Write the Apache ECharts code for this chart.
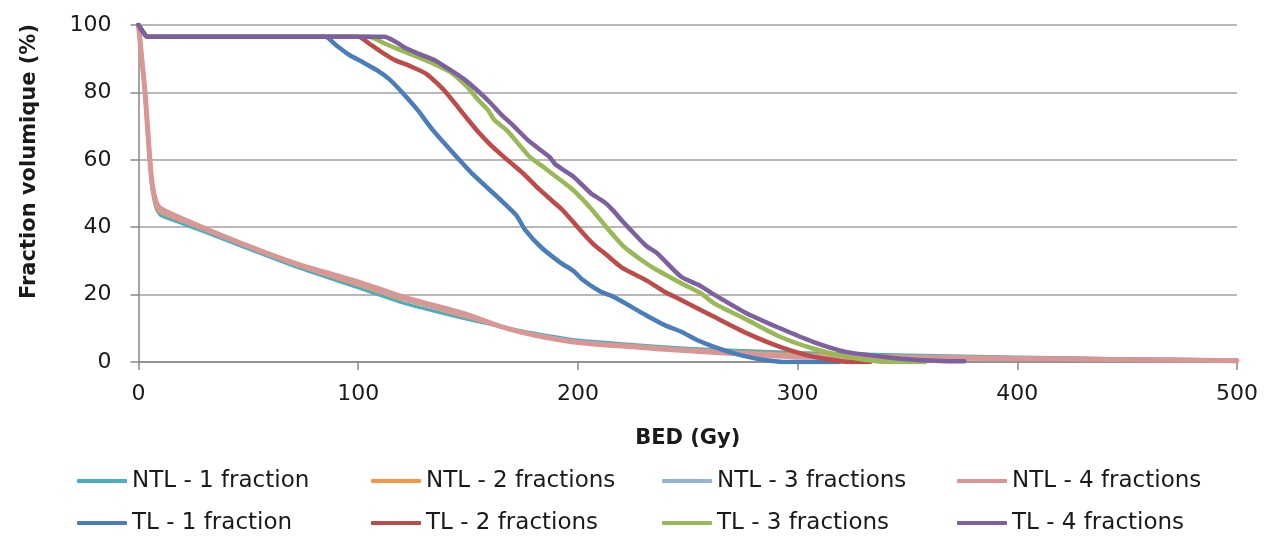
<!DOCTYPE html>
<html>
<head>
<meta charset="utf-8">
<script src="https://cdn.jsdelivr.net/npm/echarts@6/dist/echarts.min.js"></script>
<style>
html,body{margin:0;padding:0;background:#fff;}
#c{width:1271px;height:537px;}
</style>
</head>
<body>
<div id="c"></div>
<script>
// Series names and colours
var seriesNames = ['NTL - 1 fraction','NTL - 2 fractions','NTL - 3 fractions','NTL - 4 fractions',
                   'TL - 1 fraction','TL - 2 fractions','TL - 3 fractions','TL - 4 fractions'];
var seriesColors = ['#4BACC6','#F79646','#95B3D7','#D99694','#4A7EBB','#BE4B48','#98B954','#7D60A0'];
var xTicks = [0,100,200,300,400,500];
var yTicks = [0,20,40,60,80,100];

// [BED (Gy), fraction volumique (%)]
var ntl1 = [[0,100],[1.5,90],[3,78],[4.5,64],[6,52],[8,45.5],[10,43.5],[20,41],[43,35.3],[73.5,27.8],[100,22],[120,17.6],[150,12.6],[165,10.5],[180,8.6],[200,6.5],[225,5.2],[250,4.1],[275,3.4],[300,2.8],[350,2.1],[400,1.5],[450,1],[500,0.6]];
var ntl2 = [[0,100],[1.5,90],[3,79],[4.5,65],[6,53],[8,46],[10,44.3],[20,41.7],[43,35.8],[73.5,28.3],[100,22.8],[120,18.5],[150,13.2],[165,10.4],[180,8.2],[200,6.1],[225,4.9],[250,3.8],[275,3],[300,2.3],[350,1.8],[400,1.3],[450,0.9],[500,0.5]];
var ntl3 = [[0,100],[1.5,90],[3,79.5],[4.5,65.5],[6,53.5],[8,47],[10,45],[20,42.2],[43,36],[73.5,28.6],[100,23.4],[120,19],[150,13.6],[165,10.5],[180,8.1],[200,6],[225,4.6],[250,3.5],[275,2.6],[300,1.8],[350,1.4],[400,1.1],[450,0.8],[500,0.5]];
var ntl4 = [[0,100],[1.5,90],[3,80],[4.5,66],[6,54],[8,47.5],[10,45.5],[20,42.5],[43,36.2],[73.5,28.8],[100,23.8],[120,19.4],[150,14],[165,10.5],[180,8],[200,5.8],[225,4.5],[250,3.3],[275,2.4],[300,1.5],[350,1.2],[400,1],[450,0.7],[500,0.4]];
var tl1 = [[0,100],[2,98],[4,96.5],[85,96.5],[90,94],[96,91.1],[102,89],[108.5,86.6],[114,84],[119,80.7],[127,74.8],[134,68.8],[142,62.9],[152.5,55.5],[165,48],[172,43.5],[176,39.2],[183,34.2],[192,29.5],[198,27],[202,24.5],[210,21],[216,19.4],[231,13.9],[240,10.8],[247,9],[255,6.3],[262,4.5],[270,2.8],[277,1.6],[285,0.6],[292,0.1],[300,0],[319,0]];
var tl2 = [[0,100],[2,98],[4,96.5],[100,96.5],[106,94],[111.5,91.6],[117,89.5],[123.6,87.8],[131,85.5],[139,80.7],[149.5,72.3],[155,68],[160,64.6],[168,59.9],[175,56],[182,51.5],[188,48],[193,45.1],[201,39.2],[207,35],[213,31.8],[220,28],[231,24.3],[239,21],[247,18.4],[262,13.4],[277,8.5],[292,4.5],[307,1.6],[322,0.1],[333,0]];
var tl3 = [[0,100],[2,98],[4,96.5],[105,96.5],[112,94.5],[119,92.6],[127,90.5],[134,88.6],[142,86],[149.5,81.7],[155,77.5],[159,74.8],[162,71.8],[168,68.5],[178,60.9],[184,58],[191,54.5],[197,51.5],[201,49],[206,45.5],[213,40],[221,34.2],[231,29.3],[236,27.3],[247,23.4],[256,20.4],[262,17.4],[277,12.5],[292,7.5],[307,4],[322,1.6],[338,0.1],[358,0]];
var tl4 = [[0,100],[2,98],[4,96.5],[112,96.5],[117,95],[122,93],[127,91.6],[135,89.5],[142,86.6],[148,84],[154,80.7],[160,77],[165,73.5],[170,70.5],[177,66],[183,62.9],[187,60.9],[190,58.5],[198,55],[206,50],[212,47.5],[216,45],[220,42],[224,39.2],[231,34.5],[236,32.3],[247,25.3],[256,22.5],[262,20],[277,14.4],[292,10],[307,6],[322,3],[338,1.6],[350,0.8],[365,0.3],[376,0.2]];

var allData = [ntl1, ntl2, ntl3, ntl4, tl1, tl2, tl3, tl4];
var lineWidths = [3, 3, 4, 5, 4.5, 4.5, 4.5, 4.5];

var legendPos = [[77,468],[371,468],[662,468],[957,468],[77,510],[371,510],[662,510],[957,510]];

var FONT = 'DejaVu Sans';
var chart = echarts.init(document.getElementById('c'), null, {renderer:'canvas'});

var series = seriesNames.map(function(n,i){
  return {
    name: n, type: 'line', data: allData[i], showSymbol: false, symbol: 'none',
    smooth: 0.2, animation: false,
    lineStyle: {color: seriesColors[i], width: lineWidths[i], cap: 'round', join: 'round'},
    itemStyle: {color: seriesColors[i]}
  };
});

var legends = seriesNames.map(function(n,i){
  return {
    data: [n], left: legendPos[i][0], top: legendPos[i][1], padding: 0,
    icon: 'roundRect', itemWidth: 50, itemHeight: 4, selectedMode: false,
    itemStyle: {color: seriesColors[i], borderWidth: 0},
    textStyle: {fontFamily: FONT, fontSize: 23, color: '#1a1a1a', lineHeight: 26}
  };
});

chart.setOption({
  animation: false,
  backgroundColor: '#fff',
  grid: {left: 138.5, right: 34, top: 25, bottom: 175, containLabel: false},
  legend: legends,
  xAxis: {
    type: 'value', min: xTicks[0], max: xTicks[xTicks.length-1], interval: 100,
    name: 'BED (Gy)', nameLocation: 'middle', nameGap: 66,
    nameTextStyle: {fontFamily: FONT, fontSize: 21, fontWeight: 'bold', color: '#1a1a1a'},
    axisLine: {show: true, lineStyle: {color: '#868686', width: 1.5}},
    axisTick: {show: true, length: 8, lineStyle: {color: '#868686', width: 1.5}},
    axisLabel: {fontFamily: FONT, fontSize: 22, color: '#1a1a1a', margin: 21},
    splitLine: {show: false}
  },
  yAxis: {
    type: 'value', min: yTicks[0], max: yTicks[yTicks.length-1], interval: 20,
    name: 'Fraction volumique (%)', nameLocation: 'middle', nameGap: 98,
    nameTextStyle: {fontFamily: FONT, fontSize: 21, fontWeight: 'bold', color: '#1a1a1a', padding: [0,0,0,64]},
    axisLine: {show: true, lineStyle: {color: '#868686', width: 1.5}},
    axisTick: {show: true, length: 8, lineStyle: {color: '#868686', width: 1.5}},
    axisLabel: {fontFamily: FONT, fontSize: 22, color: '#1a1a1a', margin: 27},
    splitLine: {show: true, lineStyle: {color: '#a0a0a0', width: 1.5}}
  },
  series: series
});
</script>
</body>
</html>
